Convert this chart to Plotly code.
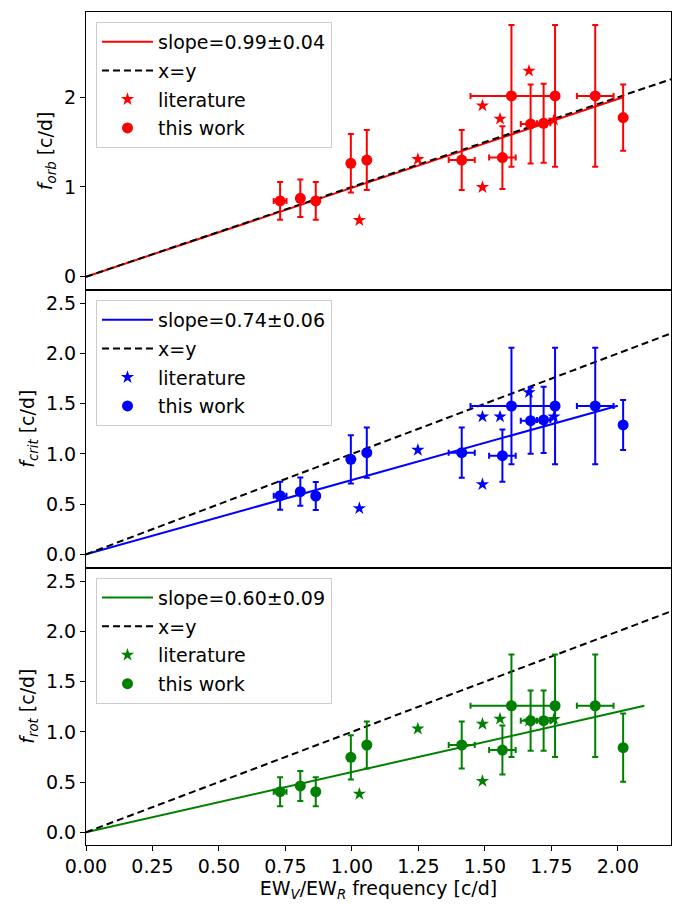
import plotly.graph_objects as go

# ---- data ----
x_this = [0.730, 0.806, 0.864, 0.996, 1.056, 1.413, 1.566, 1.600, 1.672, 1.721, 1.764, 1.915, 2.020]
xerr_this = [0.024, 0.010, 0.0, 0.0, 0.010, 0.049, 0.050, 0.154, 0.037, 0.025, 0.0, 0.069, 0.0]

f_orb = [0.844, 0.874, 0.844, 1.264, 1.300, 1.300, 1.327, 2.015, 1.702, 1.710, 2.015, 2.015, 1.773]
f_orb_err = [0.21, 0.21, 0.21, 0.325, 0.335, 0.335, 0.35, 0.79, 0.44, 0.44, 0.79, 0.79, 0.37]

f_crit = [0.584, 0.624, 0.581, 0.946, 1.012, 1.012, 0.982, 1.477, 1.331, 1.338, 1.477, 1.477, 1.288]
f_crit_err = [0.14, 0.14, 0.14, 0.24, 0.25, 0.25, 0.26, 0.58, 0.33, 0.33, 0.58, 0.58, 0.25]

f_rot = [0.404, 0.461, 0.404, 0.746, 0.869, 0.869, 0.819, 1.260, 1.111, 1.111, 1.260, 1.260, 0.842]
f_rot_err = [0.145, 0.15, 0.145, 0.22, 0.235, 0.235, 0.245, 0.51, 0.30, 0.30, 0.51, 0.51, 0.34]

x_lit = [1.028, 1.248, 1.491, 1.491, 1.557, 1.666, 1.760]
lit_orb = [0.629, 1.309, 1.906, 0.997, 1.758, 2.293, 1.747]
lit_crit = [0.458, 1.039, 1.371, 0.697, 1.371, 1.613, 1.370]
lit_rot = [0.381, 1.031, 1.078, 0.510, 1.130, 1.110, 1.127]

slopes = [0.99, 0.74, 0.60]
slope_errs = [0.04, 0.06, 0.09]
fit_xmax = [2.02, 2.00, 2.10]
xy_line = [0.0, 2.2]

colors = ["red", "blue", "green"]
y_this = [f_orb, f_crit, f_rot]
y_err = [f_orb_err, f_crit_err, f_rot_err]
y_lit = [lit_orb, lit_crit, lit_rot]
ylabels = ["<i>f</i><sub><i>orb</i></sub> [c/d]",
           "<i>f</i><sub><i>crit</i></sub> [c/d]",
           "<i>f</i><sub><i>rot</i></sub> [c/d]"]
yticks = [[0, 1, 2], [0, 0.5, 1.0, 1.5, 2.0, 2.5], [0, 0.5, 1.0, 1.5, 2.0, 2.5]]
yticktext = [["0", "1", "2"], ["0.0", "0.5", "1.0", "1.5", "2.0", "2.5"], ["0.0", "0.5", "1.0", "1.5", "2.0", "2.5"]]
yranges = [[-0.145, 2.95], [-0.133, 2.635], [-0.122, 2.635]]
xticks = [0, 0.25, 0.5, 0.75, 1.0, 1.25, 1.5, 1.75, 2.0]
xticktext = ["0.00", "0.25", "0.50", "0.75", "1.00", "1.25", "1.50", "1.75", "2.00"]
xlabel = "EW<sub><i>V</i></sub>/EW<sub><i>R</i></sub> frequency [c/d]"

W, H = 673, 904
FONT = "DejaVu Sans"
FS = 19

# panel pixel bounds (top, bottom)
panels_px = [(12, 289.7), (289.7, 567.7), (567.7, 844.5)]
xdom = [86 / W, 671 / W]

fig = go.Figure()

for i in range(3):
    ax = "" if i == 0 else str(i + 1)
    xa, ya = "x" + ax, "y" + ax
    leg = "legend" + ax
    c = colors[i]
    fig.add_trace(go.Scatter(
        x=[0, fit_xmax[i]], y=[0, slopes[i] * fit_xmax[i]], mode="lines",
        line=dict(color=c, width=2), name=f"slope={slopes[i]:.2f}±{slope_errs[i]:.2f}",
        xaxis=xa, yaxis=ya, legend=leg, legendgroup=f"a{i}"))
    fig.add_trace(go.Scatter(
        x=xy_line, y=xy_line, mode="lines",
        line=dict(color="black", width=2, dash="7px,4px"), name="x=y",
        xaxis=xa, yaxis=ya, legend=leg, legendgroup=f"b{i}"))
    fig.add_trace(go.Scatter(
        x=x_lit, y=y_lit[i], mode="markers",
        marker=dict(symbol="star", size=10, color=c, line=dict(width=0)), name="literature",
        xaxis=xa, yaxis=ya, legend=leg, legendgroup=f"c{i}"))
    fig.add_trace(go.Scatter(
        x=x_this, y=y_this[i], mode="markers",
        marker=dict(symbol="circle", size=11, color=c, line=dict(width=0)),
        error_y=dict(type="data", array=y_err[i], color=c, thickness=2, width=3),
        error_x=dict(type="data", array=xerr_this, color=c, thickness=2, width=3),
        name="this work", xaxis=xa, yaxis=ya, legend=leg, legendgroup=f"d{i}"))

layout = dict(
    width=W, height=H, margin=dict(l=0, r=0, t=0, b=0),
    paper_bgcolor="white", plot_bgcolor="white",
    font=dict(family=FONT, size=FS, color="black"),
    showlegend=True,
)

for i in range(3):
    ax = "" if i == 0 else str(i + 1)
    top, bot = panels_px[i]
    ydom = [1 - bot / H, 1 - top / H]
    is_bottom = (i == 2)
    xa = dict(
        domain=xdom, range=[0, 2.2], anchor="y" + ax,
        showline=True, linecolor="black", linewidth=1.2, mirror=True,
        showgrid=False, zeroline=False,
        tickmode="array", tickvals=xticks, ticktext=xticktext,
        ticks="outside" if is_bottom else "", ticklen=5, tickwidth=1.2, tickcolor="black",
        showticklabels=is_bottom, automargin=False,
        tickfont=dict(family=FONT, size=FS),
    )
    if is_bottom:
        xa["title"] = dict(text=xlabel, font=dict(family=FONT, size=FS), standoff=2)
    else:
        xa["matches"] = "x3"
    layout["xaxis" + ax] = xa
    layout["yaxis" + ax] = dict(
        domain=ydom, range=yranges[i], anchor="x" + ax,
        showline=True, linecolor="black", linewidth=1.2, mirror=True,
        showgrid=False, zeroline=False,
        tickmode="array", tickvals=yticks[i], ticktext=yticktext[i],
        ticks="outside", ticklen=5, tickwidth=1.2, tickcolor="black",
        automargin=False, tickfont=dict(family=FONT, size=FS),
        title=dict(text=ylabels[i], font=dict(family=FONT, size=FS), standoff=6),
    )
    legtop = [22, 300, 577.7][i]
    layout["legend" + ax] = dict(
        x=96 / W, y=1 - legtop / H, xanchor="left", yanchor="top",
        xref="paper", yref="paper",
        bgcolor="rgba(255,255,255,0.8)", bordercolor="#cccccc", borderwidth=1,
        font=dict(family=FONT, size=FS), tracegroupgap=1,
        itemwidth=51,
    )

fig.update_layout(**layout)
fig.write_html("out.html")
